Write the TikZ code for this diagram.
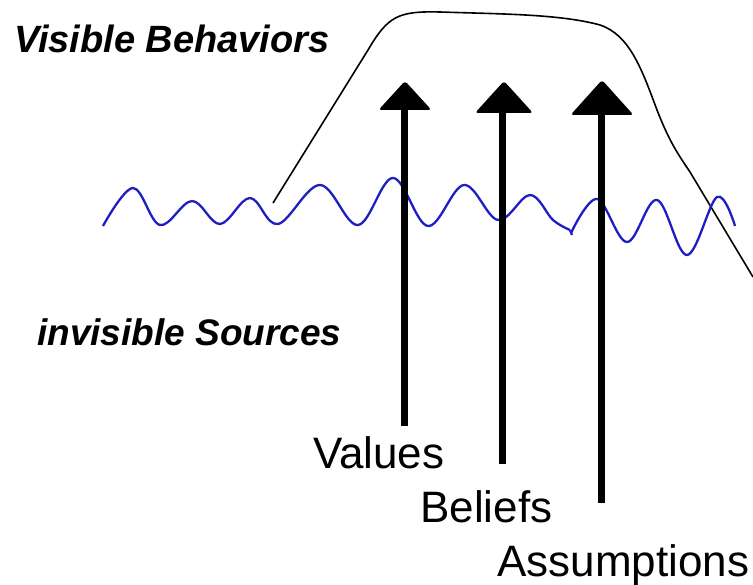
\documentclass[tikz,border=0pt]{standalone}
\usepackage{fontspec}
\setmainfont{Liberation Sans}
\begin{document}
\begin{tikzpicture}[x=1pt,y=-1pt,
  boldlabel/.style={inner sep=0pt,anchor=base west,font=\fontsize{37}{40}\selectfont\bfseries\itshape},
  layerlabel/.style={inner sep=0pt,anchor=base west,font=\fontsize{44}{48}\selectfont},
  shaft/.style={line width=7pt,black},
  outline/.style={line width=1.6pt,black},
  wave/.style={line width=2.3pt,draw={rgb,255:red,30;green,30;blue,195}}]
\useasboundingbox (0,0) rectangle (753,585);
% iceberg outline
\draw[outline] (273,203) -- (368,50) .. controls (388,16) and (398,11) .. (440,12)
  .. controls (500,14) and (560,14) .. (600,25) .. controls (630,35) and (642,70) .. (657,110)
  .. controls (668,138) and (675,150) .. (690,172) -- (753,277);
% water line
\draw[wave] plot[smooth,tension=0.6] coordinates {(103,226) (133,188) (160,225) (192,201) (220,224) (250,198) (278,224) (320,185) (358,225) (393,178) (428,226) (464,185) (498,220) (530,195) (553,220) (570,230)};
\draw[wave] (570,230) -- (572,235);
\draw[wave] plot[smooth,tension=0.6] coordinates {(571,233) (597,199) (627,242) (657,200) (687,255) (717,197) (735,226)};
% labels
\node[boldlabel,font=\fontsize{38}{40}\selectfont\bfseries\itshape] (vis) at (14,53) {Visible Behaviors};
\node[boldlabel] (invis) at (37,346) {invisible Sources};
\node[layerlabel] (val) at (313,468) {Values};
\node[layerlabel] (bel) at (420,522) {Beliefs};
\node[layerlabel] (ass) at (497,576) {Assumptions};
% arrows
\coordinate (s1) at (404,426); \coordinate (b1) at (404,108);
\coordinate (s2) at (502,464); \coordinate (b2) at (502,111);
\coordinate (s3) at (601,503); \coordinate (b3) at (601,113);
\draw[shaft] (s1) -- (b1);
\draw[shaft] (s2) -- (b2);
\draw[shaft] (s3) -- (b3);
\fill[rounded corners=3pt] (405,81) -- (378.5,110) -- (431.5,110) -- cycle;
\fill[rounded corners=3pt] (504,81) -- (475,113) -- (533,113) -- cycle;
\fill[rounded corners=3pt] (602,80) -- (570.5,115) -- (633.5,115) -- cycle;
\end{tikzpicture}
\end{document}
